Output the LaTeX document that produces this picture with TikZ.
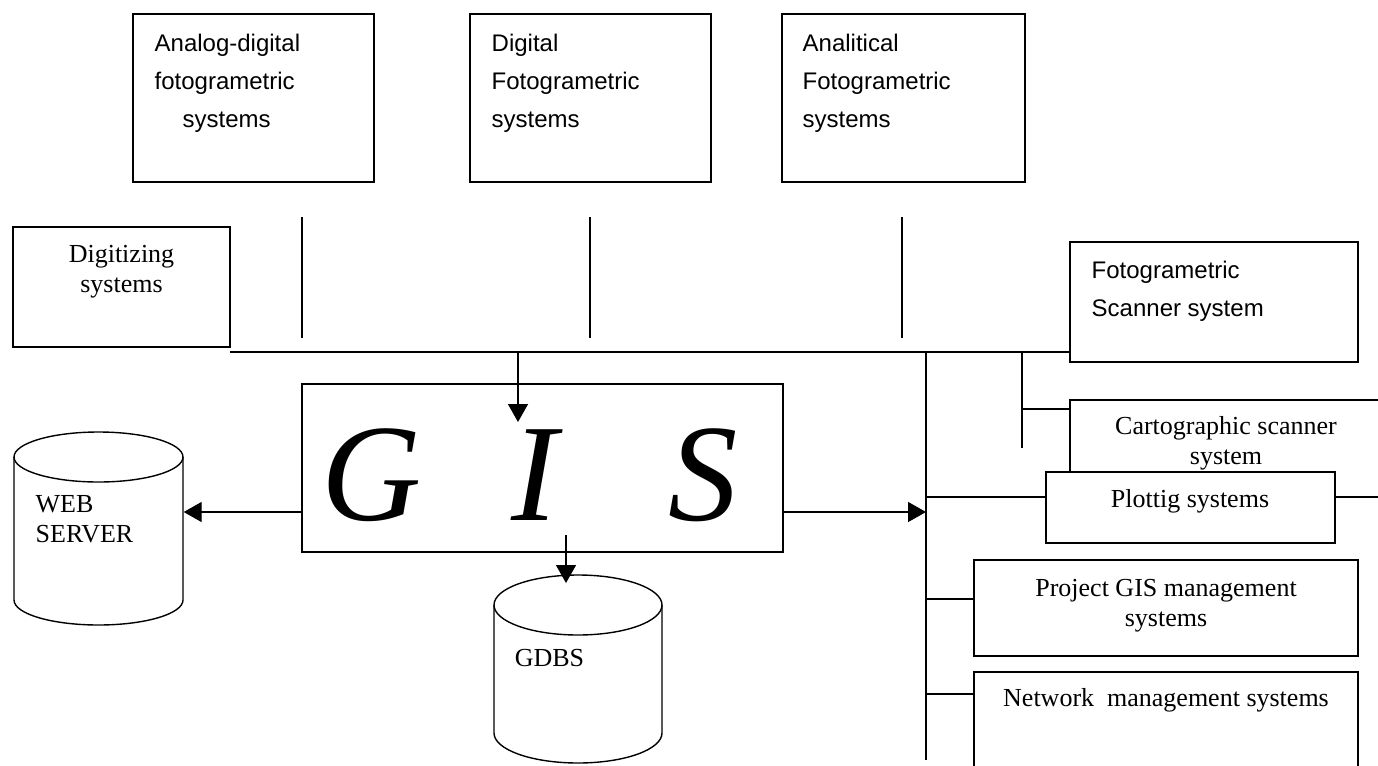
\documentclass[tikz,border=0pt]{standalone}
\usepackage{fontspec}
\setmainfont{Liberation Serif}
\newfontfamily\arialf{Liberation Sans}
\usetikzlibrary{fit,arrows.meta,calc}
\begin{document}
\begin{tikzpicture}[x=0.75pt,y=-0.75pt,line width=1.05pt,
  box/.style={draw,fill=white,inner sep=0pt},
  hid/.style={inner sep=0pt},
  sans/.style={font=\arialf\fontsize{18}{28.5}\selectfont,align=left,inner sep=0pt},
  serif/.style={font=\fontsize{19.5}{22.5}\selectfont,align=center,inner sep=0pt},
  serifl/.style={font=\fontsize{19.5}{22.5}\selectfont,align=left,inner sep=0pt},
  big/.style={font=\fontsize{104}{104}\selectfont\itshape,inner sep=0pt},
  arr/.style={-{Triangle[length=13.5pt,width=15pt]}}]
\useasboundingbox (0,0) rectangle (1378,765);
\clip (0,0) rectangle (1378,765);

% top boxes
\node[box,fit={(133,14) (374,182)}] (ad) {};
\node[sans,anchor=west] (adt) at (154,83) {Analog-digital\\fotogrametric\\\hspace*{21pt}systems};
\node[box,fit={(470,14) (711,182)}] (df) {};
\node[sans,anchor=west] (dft) at (491,83) {Digital\\Fotogrametric\\systems};
\node[box,fit={(782,14) (1025,182)}] (af) {};
\node[sans,anchor=west] (aft) at (802,83) {Analitical\\Fotogrametric\\systems};

% stubs
\coordinate (s1a) at (302,217); \coordinate (s1b) at (302,338);
\coordinate (s2a) at (590,217); \coordinate (s2b) at (590,338);
\coordinate (s3a) at (902,217); \coordinate (s3b) at (902,338);
\draw (s1a) -- (s1b);
\draw (s2a) -- (s2b);
\draw (s3a) -- (s3b);

% left box
\node[box,fit={(13,227) (230,347)}] (dig) {};
\node[serif] (digt) at (121.5,272) {Digitizing\\systems};

% right boxes
\node[box,fit={(1070,242) (1358,362)}] (fs) {};
\node[sans,anchor=west] (fst) at (1091,291) {Fotogrametric\\Scanner system};
\node[box,fit={(1070,400) (1400,497)}] (carto) {};
\node[serif] (cartot) at (1226,443) {Cartographic scanner\\system};
\node[box,fit={(1046,472) (1335,543)}] (plot) {};
\node[serif,anchor=base] (plott) at (1190,507) {Plottig systems};
\node[box,fit={(974,560) (1358,656)}] (proj) {};
\node[serif] (projt) at (1166,606) {Project GIS management\\systems};
\node[box,fit={(974,672) (1358,800)}] (net) {};
\node[serif,anchor=base] (nett) at (1166,706) {Network\ \ management systems};

% GIS box
\node[box,fit={(302,384) (783,552)}] (gis) {};
\node[big,anchor=base] (gG) at (372,520) {G};
\node[big,anchor=base] (gI) at (535,520) {I};
\node[big,anchor=base] (gS) at (703,520) {S};

% cylinders
\node[hid,fit={(14,432) (183,625)}] (web) {};
\draw[fill=white] (14,457) -- (14,600) arc[start angle=180,end angle=0,x radius=84.5,y radius=25]
  -- (183,457) arc[start angle=0,end angle=-180,x radius=84.5,y radius=25] -- cycle;
\draw (14,457) arc[start angle=180,end angle=0,x radius=84.5,y radius=25];
\node[serifl,anchor=west] (webt) at (35,519.5) {WEB\\SERVER};

\node[hid,fit={(494,575) (662,763)}] (gdbs) {};
\draw[fill=white] (494,605) -- (494,733) arc[start angle=180,end angle=0,x radius=84,y radius=30]
  -- (662,605) arc[start angle=0,end angle=-180,x radius=84,y radius=30] -- cycle;
\draw (494,605) arc[start angle=180,end angle=0,x radius=84,y radius=30];
\node[serif,anchor=base] (gdbst) at (549.5,666) {GDBS};

% bus lines
\coordinate (bus0) at (230,352);
\coordinate (busR) at (926,352);
\coordinate (busRend) at (926,760);
\coordinate (sub) at (1022,352);
\coordinate (subend) at (1022,448);
\draw (bus0) -- (fs.west |- bus0);
\draw (busR) -- (busRend);
\draw (sub) -- (subend);
\coordinate (bc) at (1022,409);
\draw (bc) -- (carto.west |- bc);
\coordinate (bp) at (926,497);
\draw (bp) -- (plot.west |- bp);
\coordinate (bpr) at (926,599);
\draw (bpr) -- (proj.west |- bpr);
\coordinate (bn) at (926,694);
\draw (bn) -- (net.west |- bn);

% arrows
\coordinate (ay) at (0,512);
\draw[arr] (gis.east |- ay) -- (busR |- ay);
\draw[arr] (gis.west |- ay) -- (web.east |- ay);
\coordinate (inA) at (518,352);
\coordinate (inAtip) at (518,422);
\draw[arr] (inA) -- (inAtip);
\coordinate (outB) at (566,535);
\coordinate (outBtip) at (566,583);
\draw[arr] (outB) -- (outBtip);
\end{tikzpicture}
\end{document}
